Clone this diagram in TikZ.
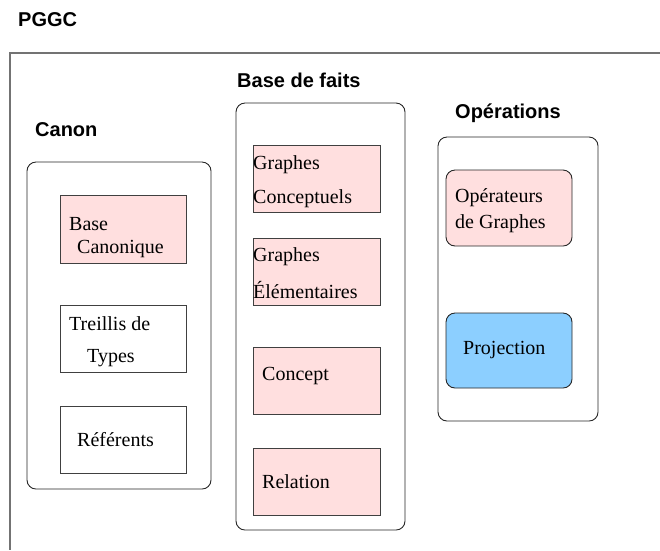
\documentclass[tikz,border=0pt]{standalone}
\usepackage{fontspec}
\setmainfont{Liberation Serif}
\newfontfamily\titlefont{Liberation Sans}
\definecolor{rosepale}{HTML}{FFDFDF}
\definecolor{bleuciel}{HTML}{8CCFFF}
\begin{document}
\begin{tikzpicture}[x=1pt,y=-1pt,
  titre/.style={anchor=west,inner sep=0pt,font=\titlefont\bfseries\fontsize{20}{22}\selectfont},
  texte/.style={anchor=west,inner sep=0pt,font=\fontsize{20}{22}\selectfont},
  groupe/.style={draw=black!85,line width=0.9pt,rounded corners=9pt},
  boite/.style={draw=black!75,line width=0.9pt,fill=rosepale},
  boiteblanche/.style={draw=black!75,line width=0.9pt,fill=white},
  operateur/.style={draw=black!85,line width=0.9pt,rounded corners=9pt}]
\useasboundingbox (0,0) rectangle (660,550);

% cadre PGGC
\node[titre] (pggc) at (18,20) {PGGC};
\draw[black!55,line width=1.2pt] (660,53) -- (10,53) -- (10,550);

% Canon
\node[titre] (canon) at (35,130) {Canon};
\draw[groupe] (27,162) rectangle (211,489);

\draw[boite] (60,195) rectangle (186,263);
\node[texte] (basecan1) at (69,224) {Base};
\node[texte] (basecan2) at (77,249) {Canonique};

\draw[boiteblanche] (60,305) rectangle (186,372);
\node[texte] (treillis1) at (69,324) {Treillis de};
\node[texte] (treillis2) at (87,358) {Types};

\draw[boiteblanche] (60,406) rectangle (186,473);
\node[texte] (referents) at (77,440) {Référents};

% Base de faits
\node[titre] (basefaits) at (237,80) {Base de faits};
\draw[groupe] (236,103) rectangle (405,530);

\draw[boite] (253,145) rectangle (380,212);
\node[texte] (gc1) at (253,165) {Graphes};
\node[texte] (gc2) at (253,199) {Conceptuels};

\draw[boite] (253,238) rectangle (380,305);
\node[texte] (ge1) at (253,257) {Graphes};
\node[texte] (ge2) at (253,290) {Élémentaires};

\draw[boite] (253,347) rectangle (380,414);
\node[texte] (concept) at (262,376) {Concept};

\draw[boite] (253,448) rectangle (380,515);
\node[texte] (relation) at (262,482) {Relation};

% Operations
\node[titre] (operations) at (455,113) {Opérations};
\draw[groupe] (438,137) rectangle (598,421);

\draw[operateur,fill=rosepale] (446,170) rectangle (572,246);
\node[texte] (op1) at (455,198) {Opérateurs};
\node[texte] (op2) at (455,224) {de Graphes};

\draw[operateur,fill=bleuciel] (446,313) rectangle (572,388);
\node[texte] (projection) at (463,350) {Projection};
\end{tikzpicture}
\end{document}
